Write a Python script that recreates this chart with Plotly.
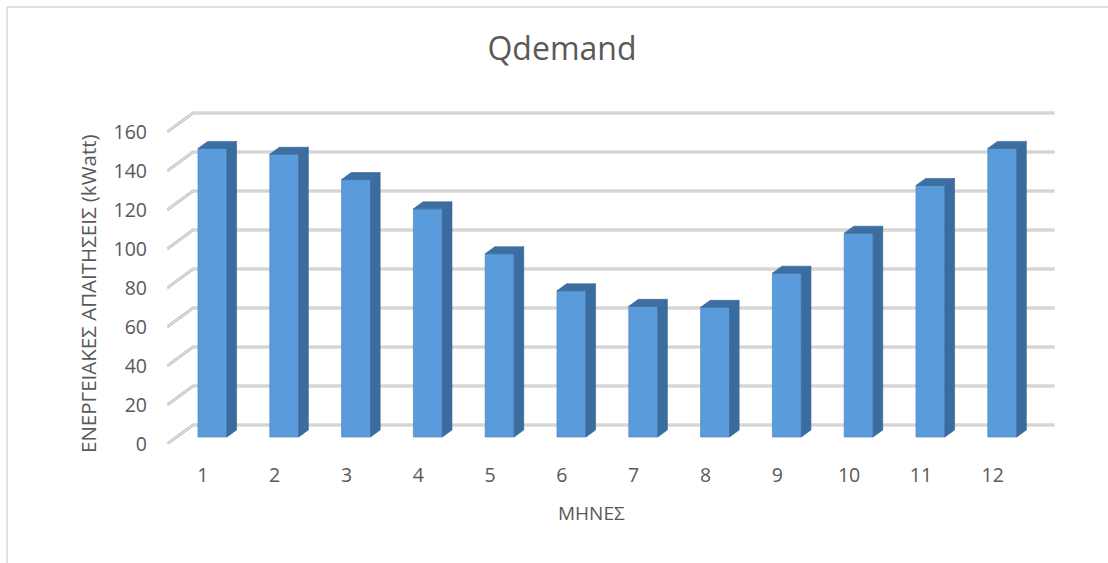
import plotly.graph_objects as go

# Monthly energy demand (kWatt)
months = ["1", "2", "3", "4", "5", "6", "7", "8", "9", "10", "11", "12"]
qdemand = [148, 145, 132, 117, 94, 75, 67, 66.5, 84, 104.5, 129, 148]
y_ticks = [0, 20, 40, 60, 80, 100, 120, 140, 160]

# Canvas / scale setup
W_PX, H_PX = 1108, 563
L, R, T, B = 167, 44, 103, 119
PX_X = 71.8          # pixels per category
PX_Y = 1.95          # pixels per kWatt
plot_w = W_PX - L - R
plot_h = H_PX - T - B

# Oblique projection of the depth axis (front plane -> back wall)
DX = 26 / PX_X
DY = 19 / PX_Y
D_FRONT, D_BACK = 0.368, 0.737      # bar depth span
HALF_W = 0.202                      # half bar width (category units)

FONT = "Open Sans"
TXT = "#595959"

fig = go.Figure()

# Column positions on the bar front plane
xc = [i + 1 + D_FRONT * DX for i in range(len(months))]
base = D_FRONT * DY
ddx = (D_BACK - D_FRONT) * DX
ddy = (D_BACK - D_FRONT) * DY

# Side and top faces of each column
sx, sy, tx, ty = [], [], [], []
for c, v in zip(xc, qdemand):
    r = c + HALF_W
    l = c - HALF_W
    top = base + v
    sx += [r, r + ddx, r + ddx, r, r, None]
    sy += [base, base + ddy, top + ddy, top, base, None]
    tx += [l, r, r + ddx, l + ddx, l, None]
    ty += [top, top, top + ddy, top + ddy, top, None]

# Front faces
fig.add_trace(go.Bar(x=xc, y=qdemand, base=base, width=2 * HALF_W,
                     marker=dict(color="#5a9bdc", line=dict(color="#4a82bd", width=0.6)),
                     hovertemplate="%{y}<extra></extra>"))
fig.add_trace(go.Scatter(x=sx, y=sy, mode="lines", fill="toself",
                         fillcolor="#3a6c9f", line=dict(color="#35648f", width=0.6),
                         hoverinfo="skip"))
fig.add_trace(go.Scatter(x=tx, y=ty, mode="lines", fill="toself",
                         fillcolor="#3d6fa3", line=dict(color="#35648f", width=0.6),
                         hoverinfo="skip"))

# Back wall gridlines + left-wall diagonals, kept beneath the columns
shapes = []
for v in y_ticks:
    path = (f"M 0.5,{v} L {0.5 + DX},{v + DY} L {12.5 + DX},{v + DY}")
    for color, width in (("#c4c4c4", 3), ("#e8e8e8", 1)):
        shapes.append(dict(type="path", xref="x", yref="y", path=path,
                           layer="below", line=dict(color=color, width=width)))


def paper_x(px):
    return (px - L) / plot_w


def paper_y(py):
    return (H_PX - B - py) / plot_h


# Chart area border (left and top edges)
shapes += [
    dict(type="line", xref="paper", yref="paper",
         x0=paper_x(7), y0=paper_y(7), x1=paper_x(7), y1=paper_y(H_PX + 5),
         line=dict(color="#d9d9d9", width=1.5)),
    dict(type="line", xref="paper", yref="paper",
         x0=paper_x(7), y0=paper_y(7), x1=paper_x(W_PX + 5), y1=paper_y(7),
         line=dict(color="#d9d9d9", width=1.5)),
]

fig.update_layout(
    width=W_PX, height=H_PX,
    margin=dict(l=L, r=R, t=T, b=B),
    paper_bgcolor="white", plot_bgcolor="white",
    showlegend=False,
    font=dict(family=FONT, color=TXT, size=19),
    title=dict(text="Qdemand", font=dict(size=32, color=TXT, family=FONT),
               xref="container", yref="container",
               x=562 / W_PX, y=1 - 49 / H_PX, xanchor="center", yanchor="middle"),
    xaxis=dict(range=[0.5, 0.5 + plot_w / PX_X], tickmode="array",
               tickvals=list(range(1, 13)), ticktext=months,
               showgrid=False, zeroline=False, showline=False,
               ticks="", ticklabelstandoff=17,
               tickfont=dict(size=19.5, color=TXT)),
    yaxis=dict(range=[0, plot_h / PX_Y], tickmode="array",
               tickvals=y_ticks, ticktext=[str(v) for v in y_ticks],
               showgrid=False, zeroline=False, showline=False,
               ticks="", ticklabelstandoff=19,
               tickfont=dict(size=19.5, color=TXT)),
    annotations=[
        dict(text="ΕΝΕΡΓΕΙΑΚΕΣ ΑΠΑΙΤΗΣΕΙΣ (kWatt)", textangle=-90,
             xref="paper", yref="paper", x=paper_x(88), y=paper_y(294),
             xanchor="center", yanchor="middle", showarrow=False,
             font=dict(size=20.5, color=TXT)),
        dict(text="ΜΗΝΕΣ", xref="paper", yref="paper",
             x=paper_x(591), y=paper_y(513), xanchor="center", yanchor="middle",
             showarrow=False, font=dict(size=19, color=TXT)),
    ],
    shapes=shapes,
)

fig.write_html("out.html")
